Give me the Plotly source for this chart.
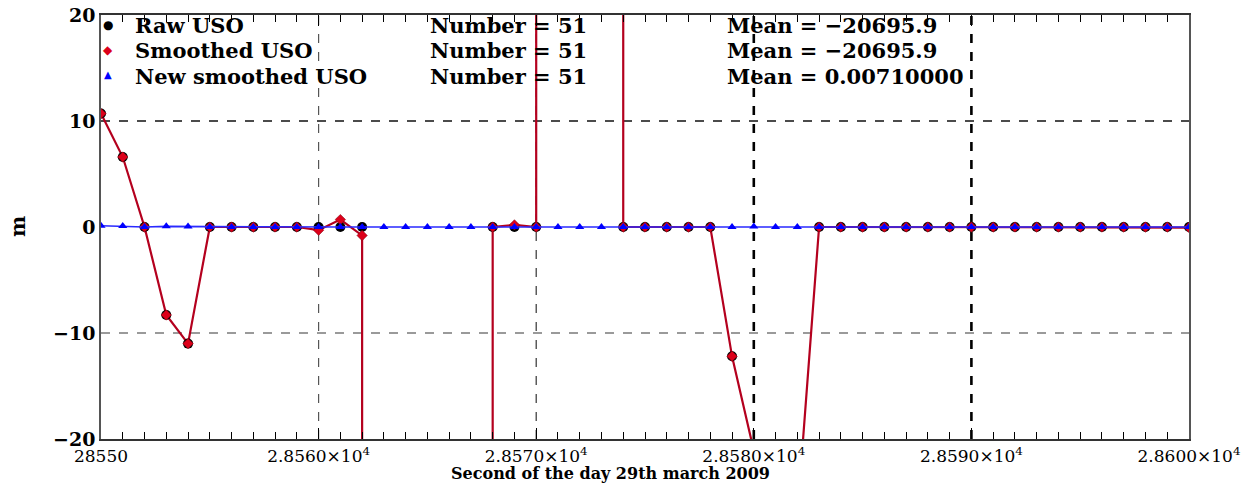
import plotly.graph_objects as go

# ---------------- data ----------------
seconds = list(range(28550, 28601))

raw_uso = [10.7, 6.6, 0.0, -8.3, -11.0, 0.0, 0.0, 0.0, 0.0, 0.0,
           0.0, 0.0, 0.0, -262000.0, -258500.0, -265300.0, -259800.0, -261000.0, 0.0, 0.0,
           0.0, 83500.0, 84100.0, 83601.4, 0.0, 0.0, 0.0, 0.0, 0.0, -12.2,
           -20.7, -30.0, -27.2, 0.0, 0.0, 0.0, 0.0, 0.0, 0.0, 0.0,
           0.0, 0.0, 0.0, 0.0, 0.0, 0.0, 0.0, 0.0, 0.0, 0.0, 0.0]

smoothed_uso = [10.7, 6.6, 0.0, -8.3, -11.0, 0.0, 0.0, 0.0, 0.0, 0.0,
                -0.3, 0.7, -0.8, -262000.0, -258500.0, -265300.0, -259800.0, -261000.0, 0.0, 0.2,
                0.0, 83500.0, 84100.0, 83601.4, 0.0, 0.0, 0.0, 0.0, 0.0, -12.2,
                -20.7, -30.0, -27.2, 0.0, 0.0, 0.0, 0.0, 0.0, 0.0, 0.0,
                0.0, 0.0, 0.0, 0.0, 0.0, 0.0, 0.0, 0.0, 0.0, 0.0, -0.05]

new_smoothed_uso = [0.12, 0.09, 0.0, 0.06, 0.05, 0.0, 0.0, 0.0, 0.0, 0.0,
                    0.0, 0.0, 0.0, 0.0, 0.0, 0.0, 0.0, 0.0, 0.0, 0.0,
                    0.0, 0.0, 0.0, 0.0, 0.0, 0.0, 0.0, 0.0, 0.0, 0.0,
                    0.042, 0.0, 0.0, 0.0, 0.0, 0.0, 0.0, 0.0, 0.0, 0.0,
                    0.0, 0.0, 0.0, 0.0, 0.0, 0.0, 0.0, 0.0, 0.0, 0.0, 0.0]

series_names = ["Raw USO", "Smoothed USO", "New smoothed USO"]
number_labels = ["Number = 51", "Number = 51", "Number = 51"]
mean_labels = ["Mean = \u221220695.9", "Mean = \u221220695.9", "Mean = 0.00710000"]

x_tickvals = [28550, 28560, 28570, 28580, 28590, 28600]
x_ticktext = ["28550", "2.8560\u00d710<sup>4</sup>", "2.8570\u00d710<sup>4</sup>",
              "2.8580\u00d710<sup>4</sup>", "2.8590\u00d710<sup>4</sup>", "2.8600\u00d710<sup>4</sup>"]
y_tickvals = [-20, -10, 0, 10, 20]
y_ticktext = ["\u221220", "\u221210", "0", "10", "20"]

x_title = "Second of the day 29th march 2009"
y_title = "m"

# ---------------- layout constants ----------------
W, H = 1258, 485
L, R, T, B = 101, 1189, 15, 439
FONT = "DejaVu Serif"


def px(xp):
    return (xp - L) / (R - L)


def py(yp):
    return (B - yp) / (B - T)


fig = go.Figure()

# red connecting line (smoothed)
fig.add_trace(go.Scatter(x=seconds, y=smoothed_uso, mode="lines",
                         line=dict(color="#b4001e", width=2.2), showlegend=False,
                         hoverinfo="skip"))
# raw markers
fig.add_trace(go.Scatter(x=seconds, y=raw_uso, mode="markers",
                         marker=dict(symbol="circle", size=10, color="#000000"),
                         showlegend=False))
# smoothed markers
fig.add_trace(go.Scatter(x=seconds, y=smoothed_uso, mode="markers",
                         marker=dict(symbol="diamond", size=8, color="#dc001a",
                                     line=dict(color="#7a0010", width=0.5)),
                         showlegend=False))
# new smoothed
fig.add_trace(go.Scatter(x=seconds, y=new_smoothed_uso, mode="lines+markers",
                         line=dict(color="#2a2aff", width=1.6),
                         marker=dict(symbol="triangle-up", size=8, color="#0000ff"),
                         showlegend=False))

# grid lines (dashed, differing styles as in reference)
vgrid = [(28560, "#555555", 1.2), (28570, "#333333", 1.2),
         (28580, "#000000", 2.6), (28590, "#000000", 2.6)]
for xv, col, w in vgrid:
    fig.add_shape(type="line", xref="x", yref="paper", x0=xv, x1=xv, y0=0, y1=1,
                  line=dict(color=col, width=w, dash="dash"), layer="below")
hgrid = [(10, "#111111", 1.5), (-10, "#9a9a9a", 2.0)]
for yv, col, w in hgrid:
    fig.add_shape(type="line", xref="paper", yref="y", x0=0, x1=1, y0=yv, y1=yv,
                  line=dict(color=col, width=w, dash="dash"), layer="below")

# legend-like annotations
rows_y = [26, 51, 76]
glyphs = [("\u25cf", "#000000", 12), ("\u25c6", "#dc001a", 12), ("\u25b2", "#0000ff", 10)]
for i in range(3):
    g, gc, gs = glyphs[i]
    fig.add_annotation(x=px(108), y=py(rows_y[i] - 1), xref="paper", yref="paper",
                       text=g, showarrow=False, font=dict(family=FONT, size=gs, color=gc),
                       xanchor="center", yanchor="middle")
    fig.add_annotation(x=px(133), y=py(rows_y[i]), xref="paper", yref="paper",
                       text=series_names[i], showarrow=False,
                       font=dict(family=FONT, size=21, color="#000000", weight="bold"),
                       xanchor="left", yanchor="middle")
    fig.add_annotation(x=px(428), y=py(rows_y[i]), xref="paper", yref="paper",
                       text=number_labels[i], showarrow=False,
                       font=dict(family=FONT, size=21, color="#000000", weight="bold"),
                       xanchor="left", yanchor="middle")
    fig.add_annotation(x=px(725), y=py(rows_y[i]), xref="paper", yref="paper",
                       text=mean_labels[i], showarrow=False,
                       font=dict(family=FONT, size=21, color="#000000", weight="bold"),
                       xanchor="left", yanchor="middle")

# axis titles
fig.add_annotation(x=px(610), y=py(485), xref="paper", yref="paper", text=x_title,
                   showarrow=False, font=dict(family=FONT, size=16, color="#000000", weight="bold"),
                   xanchor="center", yanchor="bottom")
fig.add_annotation(x=px(18), y=py(227), xref="paper", yref="paper", text=y_title,
                   showarrow=False, textangle=-90,
                   font=dict(family=FONT, size=20, color="#000000", weight="bold"),
                   xanchor="center", yanchor="middle")

fig.update_layout(
    width=W, height=H, autosize=False,
    margin=dict(l=L, r=W - R, t=T, b=H - B, pad=0, autoexpand=False),
    paper_bgcolor="white", plot_bgcolor="white",
    xaxis=dict(range=[28550, 28600], tickmode="array", tickvals=x_tickvals, ticktext=x_ticktext,
               automargin=False,
               showgrid=False, zeroline=False, showline=True, linecolor="#333333",
               linewidth=1.5, mirror="ticks", ticks="inside", ticklen=11, tickcolor="#000000",
               tickwidth=1.3,
               minor=dict(tickmode="linear", tick0=28550, dtick=1, ticks="inside", ticklen=7,
                          tickcolor="#000000", tickwidth=1.1, showgrid=False),
               tickfont=dict(family=FONT, size=17, color="#000000"), ticklabelstandoff=1),
    yaxis=dict(range=[-20, 20], tickvals=y_tickvals, ticktext=y_ticktext,
               automargin=False,
               showgrid=False, zeroline=False, showline=True, linecolor="#555555",
               linewidth=1.5, mirror=True, ticks="",
               tickfont=dict(family=FONT, size=19, color="#000000", weight="bold")),
)

fig.write_html("out.html", config={"displayModeBar": False},
               post_script="document.body.style.margin='0px';"
                           "document.body.style.overflow='hidden';")
